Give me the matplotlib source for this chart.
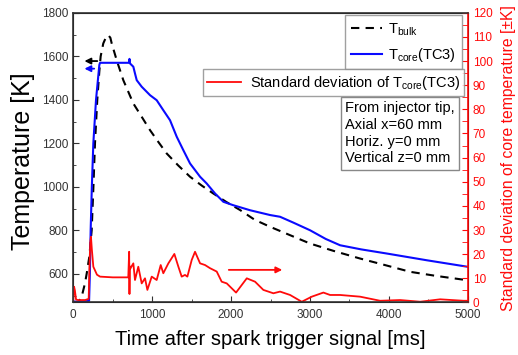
import matplotlib
matplotlib.use("Agg")
import matplotlib.pyplot as plt
from matplotlib.ticker import MultipleLocator
from matplotlib.lines import Line2D

plt.rcParams['font.family'] = ['Liberation Sans', 'DejaVu Sans']
plt.rcParams['mathtext.fontset'] = 'custom'
plt.rcParams['mathtext.rm'] = 'Liberation Sans'

# T_bulk (dashed black), time [ms] / temperature [K]
t_bulk = [0, 63, 106, 148, 170, 203, 233, 255, 275, 304, 330, 347, 380, 420, 444, 470, 487,
          550, 634, 761, 870, 973, 1080, 1184, 1330, 1480, 1630, 1775, 1940, 2114, 2300,
          2494, 2750, 3001, 3300, 3635, 3950, 4269, 4600, 5000]
T_bulk = [468, 470, 494, 556, 601, 678, 800, 1000, 1200, 1400, 1530, 1600, 1659, 1692, 1697,
          1685, 1659, 1582, 1490, 1383, 1320, 1260, 1205, 1153, 1098, 1046, 1005, 969, 930,
          893, 848, 816, 777, 739, 705, 670, 640, 609, 590, 570]

# T_core (TC3), blue
t_core = [0, 100, 200, 210, 220, 235, 254, 288, 330, 339, 705, 712, 719, 761, 782, 804, 867,
          973, 1057, 1141, 1226, 1311, 1395, 1480, 1607, 1691, 1797, 1902, 2029, 2241, 2494,
          2621, 2790, 3001, 3200, 3382, 3650, 3974, 4481, 5000]
T_core = [472, 472, 475, 600, 800, 1000, 1200, 1400, 1560, 1570, 1570, 1588, 1567, 1552, 1521,
          1490, 1460, 1421, 1398, 1352, 1306, 1230, 1168, 1107, 1046, 1015, 969, 931, 915, 892,
          870, 862, 835, 800, 760, 731, 712, 693, 662, 632]

# Standard deviation of T_core (TC3), red, right axis [±K]
t_sd = [0, 10, 20, 35, 60, 150, 195, 205, 215, 224, 235, 254, 300, 339, 500, 697, 708, 712,
        716, 722, 761, 782, 824, 867, 909, 939, 994, 1057, 1108, 1141, 1205, 1281, 1332, 1374,
        1416, 1446, 1501, 1543, 1607, 1670, 1733, 1818, 1881, 1945, 2063, 2199, 2304, 2409,
        2536, 2621, 2748, 2896, 3023, 3170, 3255, 3382, 3635, 3889, 4143, 4397, 4650, 4946, 5000]
sd = [1, 6.5, 5, 1.2, 1, 1, 1.5, 15, 25, 27.2, 22, 14.8, 11.5, 10.7, 10.4, 10.4, 21, 3.5,
      15, 14, 16.2, 9.3, 14.8, 7.9, 10, 5.2, 10.7, 9.3, 15.5, 12.1, 16.2, 20.1, 14.8, 10.7,
      11.4, 10.7, 17.6, 21, 16.2, 15.5, 14.2, 12.8, 8.6, 7.9, 4.1, 10, 8.6, 5.2,
      3.8, 4.5, 3.1, 0.3, 2.4, 4.1, 3.1, 3.1, 2.4, 0.7, 1, 0.3, 1.3, 0.7, 0.7]

# arrows (tail time, head time, level)
arrow_bulk = (339, 106, 1578)
arrow_core = (300, 106, 1543)
arrow_sd = (1936, 2684, 13.5)

info_lines = ["From injector tip,", "Axial x=60 mm", "Horiz. y=0 mm", "Vertical z=0 mm"]

BLUE = '#0a0aff'
RED = '#ff0a0a'

fig = plt.figure(figsize=(5.18, 3.55), dpi=100)
ax = fig.add_axes([0.1415, 0.148, 0.7615, 0.816])
ax2 = ax.twinx()

ax.plot(t_bulk, T_bulk, color='black', ls=(0, (4, 3)), lw=1.5)
ax.plot(t_core, T_core, color=BLUE, lw=1.5)
ax2.plot(t_sd, sd, color=RED, lw=1.3)

ax.set_xlim(0, 5000)
ax.set_ylim(468, 1800)
ax2.set_ylim(0, 120)

ax.annotate('', xy=(arrow_bulk[1], arrow_bulk[2]), xytext=(arrow_bulk[0], arrow_bulk[2]),
            arrowprops=dict(arrowstyle='-|>', color='black', lw=1.3, mutation_scale=9))
ax.annotate('', xy=(arrow_core[1], arrow_core[2]), xytext=(arrow_core[0], arrow_core[2]),
            arrowprops=dict(arrowstyle='-|>', color=BLUE, lw=1.3, mutation_scale=9))
ax2.annotate('', xy=(arrow_sd[1], arrow_sd[2]), xytext=(arrow_sd[0], arrow_sd[2]),
             arrowprops=dict(arrowstyle='-|>', color=RED, lw=1.3, mutation_scale=9))

ax.xaxis.set_major_locator(MultipleLocator(1000))
ax.xaxis.set_minor_locator(MultipleLocator(500))
ax.yaxis.set_major_locator(MultipleLocator(200))
ax.yaxis.set_minor_locator(MultipleLocator(100))
ax2.yaxis.set_major_locator(MultipleLocator(10))
ax2.yaxis.set_minor_locator(MultipleLocator(5))

ax.tick_params(axis='both', which='both', direction='in', labelsize=8.5, colors='#333333')
ax.tick_params(axis='both', which='major', length=4)
ax.tick_params(axis='both', which='minor', length=2.5)
ax.tick_params(axis='x', pad=5)
ax2.tick_params(axis='y', which='both', direction='in', colors=RED, labelsize=8.5)
ax2.tick_params(axis='y', which='major', length=4)
ax2.tick_params(axis='y', which='minor', length=4)

for s in ['left', 'bottom', 'top']:
    ax2.spines[s].set_color('#333333')
    ax2.spines[s].set_linewidth(1.2)
ax2.spines['right'].set_color(RED)
ax2.spines['right'].set_linewidth(1.2)

ax.set_xlabel('Time after spark trigger signal [ms]', fontsize=14.5, labelpad=6)
ax.set_ylabel('Temperature [K]', fontsize=18)
ax.yaxis.set_label_coords(-0.098, 0.487)
ax2.set_ylabel('Standard deviation of core temperature [\u00b1K]', fontsize=11.3,
               color=RED, labelpad=6)

h1 = [Line2D([], [], color='black', ls=(0, (4, 3)), lw=1.5),
      Line2D([], [], color=BLUE, lw=1.5)]
leg1 = ax2.legend(h1, [r'T$_{\mathregular{bulk}}$', r'T$_{\mathregular{core}}$(TC3)'],
                  loc='upper right', bbox_to_anchor=(0.985, 0.992), fontsize=10.5,
                  frameon=True, fancybox=False, edgecolor='#888888', handlelength=2.1,
                  borderaxespad=0, labelspacing=0.55, borderpad=0.4, handletextpad=0.45)
leg1.get_frame().set_linewidth(1.0)
ax2.add_artist(leg1)

h2 = [Line2D([], [], color=RED, lw=1.3)]
leg2 = ax2.legend(h2, [r'Standard deviation of T$_{\mathregular{core}}$(TC3)'],
                  loc='upper right', bbox_to_anchor=(0.991, 0.805), fontsize=10.5,
                  frameon=True, fancybox=False, edgecolor='#888888', handlelength=2.3,
                  borderaxespad=0, borderpad=0.3, handletextpad=0.6)
leg2.get_frame().set_linewidth(1.0)

ax2.text(0.689, 0.695, "\n".join(info_lines), transform=ax2.transAxes, fontsize=10.5,
         va='top', ha='left', linespacing=1.25,
         bbox=dict(boxstyle='square,pad=0.3', fc='white', ec='#888888', lw=1.0))

fig.savefig('out.png', dpi=100)
